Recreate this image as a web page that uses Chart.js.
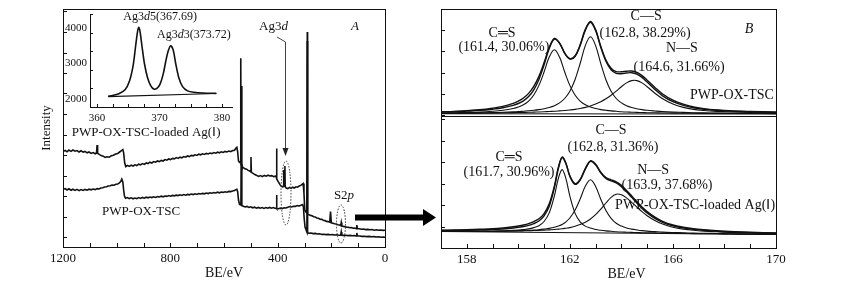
<!DOCTYPE html>
<html>
<head>
<meta charset="utf-8">
<script src="https://cdn.jsdelivr.net/npm/chart.js@4.4.1/dist/chart.umd.min.js"></script>
<style>
html, body { margin: 0; padding: 0; background: #fff; }
#wrap { position: relative; width: 863px; height: 291px; }
#wrap canvas { position: absolute; left: 0; top: 0; }
</style>
</head>
<body>
<div id="wrap">
  <canvas id="survey" width="863" height="291"></canvas>
  <canvas id="inset" width="863" height="291"></canvas>
  <canvas id="sTop" width="863" height="291"></canvas>
  <canvas id="sBot" width="863" height="291"></canvas>
</div>
<script>
// ---- survey spectra (BE in eV, intensity in arbitrary units) ----
const surveyLoaded = [[1200,85.4],[1192,86.6],[1185,85.2],[1178,86.9],[1170,85.6],[1163,87.0],[1155,85.8],[1148,86.4],[1140,85.0],[1133,86.2],[1125,84.8],[1118,85.6],[1110,84.2],[1103,85.0],[1095,83.6],[1088,84.4],[1080,83.2],[1075,84.0],[1073,92.0],[1071,83.6],[1065,82.6],[1058,81.4],[1050,80.8],[1043,79.6],[1036,80.2],[1028,79.8],[1020,81.2],[1012,81.8],[1004,83.0],[996,83.6],[989,85.0],[982,86.4],[977,87.4],[974,84.2],[970,74.0],[966,70.4],[960,71.6],[953,70.6],[946,71.8],[939,71.0],[932,72.2],[925,71.4],[918,72.8],[911,72.2],[904,73.4],[897,72.6],[890,74.0],[883,73.4],[876,74.8],[869,74.0],[862,75.4],[855,74.8],[848,76.0],[841,75.4],[834,76.6],[827,76.0],[820,77.4],[813,76.8],[806,78.0],[799,77.4],[792,78.6],[785,78.2],[778,79.4],[771,78.6],[764,79.8],[757,79.2],[750,80.4],[743,79.8],[736,81.0],[729,80.4],[722,81.6],[715,81.2],[708,82.2],[701,81.6],[694,82.8],[687,82.2],[680,83.2],[673,82.6],[666,83.6],[659,83.0],[652,84.0],[645,83.4],[638,84.4],[631,83.8],[624,84.8],[617,84.2],[610,85.2],[603,84.6],[596,85.6],[589,85.0],[582,86.0],[575,85.4],[568,86.4],[561,86.8],[556,88.6],[552,89.6],[549,85.0],[546,76.0],[542,74.6],[539,75.2],[537.5,178.7],[536.5,73.0],[533,70.6],[528,69.4],[522,68.2],[516,67.8],[510,66.6],[504,66.0],[501,65.4],[499.5,80.0],[498,64.6],[492,63.6],[485,62.4],[478,61.6],[471,60.6],[464,61.4],[457,60.4],[450,61.6],[443,60.8],[436,61.8],[429,61.0],[422,61.4],[415,60.4],[408,60.8],[405,60.2],[404,88.5],[403,58.0],[398,55.4],[392,52.6],[386,50.6],[381,50.0],[379,51.0],[378,67.0],[377,51.6],[374,50.8],[373,71.0],[372,50.4],[368,49.0],[362,48.4],[356,49.6],[350,48.6],[344,49.8],[338,49.0],[332,50.2],[326,49.8],[320,51.0],[314,51.6],[309,52.6],[305,53.4],[302,44.0],[299,27.0],[295,25.0],[291,24.0],[289.6,205.0],[288.5,23.0],[284,22.4],[278,21.6],[272,21.2],[266,20.2],[260,20.0],[254,19.0],[248,18.8],[242,17.8],[236,17.6],[230,16.8],[224,16.4],[218,15.6],[212,15.4],[206,14.8],[203,25.5],[200,14.2],[194,13.8],[188,13.2],[182,13.0],[176,12.2],[170,12.0],[165,11.4],[163,14.5],[161,11.0],[155,10.6],[149,10.4],[143,9.8],[137,9.8],[131,9.2],[125,9.4],[119,8.8],[113,9.0],[107,8.4],[105,12.0],[103,8.4],[96,8.2],[88,7.8],[80,8.0],[72,7.4],[64,7.6],[56,7.2],[48,7.4],[40,6.8],[32,7.2],[24,6.8],[16,7.0],[8,6.6],[0,6.8]];
const surveyPlain = [[1200,47.6],[1192,48.4],[1185,47.0],[1178,48.2],[1170,46.8],[1163,47.8],[1155,46.6],[1148,47.6],[1140,46.4],[1133,47.4],[1125,46.6],[1118,47.6],[1110,46.8],[1103,47.8],[1095,47.2],[1088,48.0],[1080,47.4],[1073,48.4],[1066,48.0],[1059,49.0],[1052,49.2],[1045,50.0],[1038,50.2],[1031,51.0],[1024,51.2],[1017,52.0],[1010,51.8],[1003,52.8],[996,53.0],[990,54.2],[985,55.4],[981,57.8],[977,55.0],[974,47.0],[971,41.0],[967,38.8],[960,39.4],[953,38.4],[946,39.2],[939,38.2],[932,39.0],[925,38.4],[918,39.4],[911,38.6],[904,39.6],[897,38.8],[890,39.8],[883,39.2],[876,40.0],[869,39.4],[862,40.2],[855,39.6],[848,40.4],[841,40.0],[834,40.8],[827,40.2],[820,41.0],[813,40.6],[806,41.4],[799,40.8],[792,41.6],[785,41.2],[778,41.8],[771,41.4],[764,42.2],[757,41.6],[750,42.4],[743,41.8],[736,42.6],[729,42.2],[722,43.0],[715,42.4],[708,43.2],[701,42.6],[694,43.4],[687,43.0],[680,43.6],[673,43.2],[666,44.0],[659,43.4],[652,44.2],[645,43.8],[638,44.4],[631,44.0],[624,44.8],[617,44.2],[610,45.0],[603,44.6],[596,45.2],[589,44.8],[582,45.6],[575,45.4],[568,46.0],[561,46.4],[556,47.4],[552,47.8],[549,45.0],[546,37.0],[542,32.6],[537,32.0],[534.5,151.0],[533.5,31.4],[528,30.8],[521,30.0],[514,30.6],[507,29.6],[500,30.2],[493,29.2],[486,29.8],[479,28.8],[472,29.6],[465,28.8],[458,29.4],[451,28.6],[444,29.4],[437,28.8],[430,29.6],[423,28.8],[416,29.4],[409,28.6],[405,29.0],[404,42.0],[403,28.4],[397,28.2],[390,28.8],[383,28.4],[376,29.2],[369,29.0],[362,29.8],[355,30.4],[348,30.0],[341,30.8],[334,30.6],[327,31.4],[320,31.0],[313,31.8],[307,32.4],[304,30.0],[301,18.0],[298,10.0],[294,7.0],[291,5.0],[289.6,196.0],[288.5,4.2],[283,3.8],[276,4.0],[268,3.4],[260,3.6],[252,3.0],[244,3.2],[236,2.6],[228,2.8],[220,2.4],[212,2.6],[204,2.2],[196,2.4],[188,2.0],[180,2.2],[172,1.8],[165,2.0],[163,5.0],[161,1.8],[154,1.6],[146,1.8],[138,1.4],[130,1.6],[122,1.2],[114,1.4],[107,1.0],[105,4.0],[103,1.0],[95,1.0],[86,0.6],[77,0.8],[68,0.4],[59,0.6],[50,0.2],[41,0.4],[32,0.0],[23,0.2],[14,-0.2],[6,0.0],[0,-0.2]];

// ---- Ag3d inset (BE, counts) ----
const ag3d = [[361.8,2080],[362.5,2100],[363.5,2150],[364.5,2260],[365.2,2500],[365.8,2950],[366.2,3500],[366.5,3900],[366.7,4020],[366.9,3900],[367.2,3500],[367.6,3000],[368.1,2600],[368.6,2380],[369.1,2280],[369.6,2300],[370.1,2420],[370.6,2700],[371.0,3050],[371.4,3350],[371.8,3500],[372.2,3380],[372.6,3000],[373.1,2600],[373.7,2350],[374.5,2230],[375.5,2190],[377,2170],[379.1,2160]];
const ag3dBase = [[361.8,2065],[379.1,2155]];
const insetCounts = [2000, 3000, 4000];

// ---- S2p, PWP-OX-TSC ----
const beTop = [157,157.5,158,158.5,159,159.4,159.8,160,160.2,160.4,160.6,160.8,161,161.2,161.4,161.6,161.8,162,162.2,162.4,162.6,162.8,163,163.2,163.4,163.6,163.8,164,164.2,164.4,164.6,164.8,165,165.3,165.6,166,166.4,166.8,167.2,167.7,168.2,169,170];
const topRaw = [3.2,3.6,4.3,5.2,6.8,8.6,11.6,13.8,17.0,21.6,28.6,38.6,52.4,67.6,76.6,72.2,62.0,56.4,59.0,70.2,85.6,93.6,85.4,68.8,55.0,46.8,43.4,43.2,43.8,44.0,42.6,39.4,34.8,27.6,21.0,14.8,10.8,8.0,6.4,5.1,4.2,3.5,2.9];
const topFit = [3.0,3.3,3.9,4.6,5.8,7.2,9.6,11.5,14.2,18.4,25.2,35.6,50.1,66.5,75.8,71.7,61.6,56.0,58.5,69.5,84.8,92.8,84.4,67.7,53.8,45.3,41.7,41.3,42.0,42.3,40.9,37.6,32.9,25.6,19.2,13.3,9.6,7.2,5.8,4.7,3.9,3.3,2.7];
const topCdS = [2.0,2.2,2.5,2.9,3.7,4.7,6.5,8.0,10.2,13.9,20.0,29.6,43.0,57.9,65.2,57.9,43.0,29.6,20.0,13.9,10.2,8.0,6.5,5.4,4.7,4.1,3.7,3.3,3.0,2.8,2.6,2.5,2.3,2.2,2.0,1.9,1.8,1.7,1.6,1.6,1.5,1.5,1.4];
const topCS = [1.7,1.8,2.0,2.2,2.4,2.7,3.1,3.4,3.8,4.2,4.7,5.4,6.3,7.5,9.3,12.1,16.5,23.8,35.3,51.5,69.4,78.2,69.4,51.5,35.3,23.8,16.5,12.1,9.3,7.5,6.3,5.4,4.7,4.0,3.4,2.9,2.6,2.3,2.1,1.9,1.8,1.7,1.6];
const topNS = [1.7,1.7,1.8,1.9,2.1,2.2,2.4,2.5,2.6,2.7,2.9,3.0,3.2,3.5,3.7,4.1,4.5,5.0,5.6,6.5,7.6,9.0,10.9,13.2,16.2,19.8,23.9,28.3,32.1,34.4,34.4,32.1,28.3,21.8,16.2,10.9,7.6,5.6,4.5,3.6,3.0,2.5,2.1];
const topBase = [[157,1.2],[170,1.0]];

// ---- S2p, PWP-OX-TSC-loaded Ag(I) ----
const beBot = [157,157.5,158,158.5,159,159.4,159.8,160,160.2,160.4,160.6,160.8,161,161.2,161.4,161.55,161.7,161.85,162,162.2,162.4,162.6,162.8,163,163.2,163.4,163.6,163.8,164,164.2,164.4,164.6,164.8,165,165.3,165.6,166,166.4,166.8,167.2,167.7,168.2,169,170];
const botRaw = [17.8,18.0,18.3,18.7,19.2,20.0,21.2,22.0,23.0,24.4,26.4,29.2,34.4,44.2,62.0,80.2,91.0,84.6,72.2,64.4,68.6,79.4,87.2,83.8,75.8,70.4,68.2,66.2,62.6,57.6,52.0,46.4,41.0,36.4,30.8,26.6,23.0,20.8,19.2,18.2,17.3,16.6,15.8,15.0];
const botFit = [17.5,17.6,17.8,18.1,18.4,19.0,20.0,20.6,21.5,22.6,24.4,27.0,32.1,41.8,60.3,79.1,90.4,84.3,71.7,63.7,68.0,78.9,86.7,83.2,75.1,69.5,67.1,65.0,61.3,56.3,50.6,44.9,39.6,35.1,29.6,25.7,22.2,20.1,18.6,17.7,16.8,16.2,15.4,14.7];
const botCdS = [16.8,16.8,16.8,16.8,16.8,17.0,17.6,17.9,18.4,19.1,20.4,22.3,26.5,35.1,52.1,69.2,78.4,69.1,51.9,34.9,26.2,21.9,19.9,18.5,17.7,17.1,16.7,16.3,16.0,15.8,15.6,15.5,15.3,15.3,15.1,14.9,14.7,14.6,14.4,14.3,14.2,14.0,13.8,13.6];
const botCS = [16.8,16.8,16.8,16.8,16.8,16.9,17.1,17.2,17.4,17.6,17.9,18.3,18.9,19.6,20.7,22.0,23.6,26.2,30.0,37.7,49.0,61.7,68.2,61.6,48.8,37.4,29.7,24.7,21.9,20.0,18.9,18.1,17.4,16.9,16.4,15.9,15.5,15.2,14.9,14.7,14.5,14.3,14.0,13.7];
const botNS = [16.9,16.9,16.9,16.9,16.8,16.9,17.1,17.1,17.2,17.3,17.5,17.6,17.9,18.1,18.5,18.9,19.2,19.8,20.4,21.7,23.4,25.7,29.0,33.3,38.8,45.0,50.7,53.8,53.2,50.1,45.7,40.9,36.3,32.3,27.4,23.9,20.8,18.9,17.7,16.9,16.2,15.6,14.9,14.4];
const botBase = [[157,16.5],[170,13.5]];

const FONT = "'Liberation Serif', 'Times New Roman', serif";
const INK = '#111';
Chart.defaults.font.family = FONT;
Chart.defaults.color = INK;

const pairs = arr => arr.map(p => ({x: p[0], y: p[1]}));
const zipXY = (xs, ys) => xs.map((x, i) => ({x: x, y: ys[i]}));
const line = (data, w, t) => ({data: data, borderColor: INK, borderWidth: w, pointRadius: 0, tension: t || 0, fill: false});

// text with _italic_ parts
function rich(ctx, txt, x, y, size, align) {
  const parts = txt.split('_');
  const fonts = parts.map((p, i) => (i % 2 ? 'italic ' : '') + size + 'px ' + FONT);
  let w = 0;
  parts.forEach((p, i) => { ctx.font = fonts[i]; w += ctx.measureText(p).width; });
  let cx = align === 'left' ? x : align === 'right' ? x - w : x - w / 2;
  ctx.textAlign = 'left';
  ctx.textBaseline = 'middle';
  ctx.fillStyle = INK;
  parts.forEach((p, i) => { ctx.font = fonts[i]; ctx.fillText(p, cx, y); cx += ctx.measureText(p).width; });
}

// frame + inward tick marks
function frame(o) {
  return {
    id: 'frame',
    afterDatasetsDraw(chart) {
      const ctx = chart.ctx, a = chart.chartArea;
      ctx.save();
      ctx.strokeStyle = INK;
      ctx.lineWidth = 1;
      if (o.box) ctx.strokeRect(Math.round(a.left) + 0.5, Math.round(a.top) + 0.5, Math.round(a.right - a.left), Math.round(a.bottom - a.top));
      ctx.beginPath();
      if (o.x) chart.scales.x.ticks.forEach(t => {
        const p = Math.round(chart.scales.x.getPixelForValue(t.value)) + 0.5;
        ctx.moveTo(p, a.bottom); ctx.lineTo(p, a.bottom - o.x);
      });
      if (o.y) chart.scales.y.ticks.forEach(t => {
        const p = Math.round(chart.scales.y.getPixelForValue(t.value)) + 0.5;
        ctx.moveTo(a.left, p); ctx.lineTo(a.left + o.y, p);
      });
      ctx.stroke();
      ctx.restore();
    }
  };
}

function notes(list, extra) {
  return {
    id: 'notes',
    afterDraw(chart) {
      const ctx = chart.ctx, sx = chart.scales.x, sy = chart.scales.y;
      ctx.save();
      list.forEach(n => rich(ctx, n.t, sx.getPixelForValue(n.x), sy.getPixelForValue(n.y), n.s, n.a));
      if (extra) extra(ctx, sx, sy);
      ctx.restore();
    }
  };
}

const base = {
  responsive: false,
  animation: false,
  events: [],
  plugins: {legend: {display: false}, tooltip: {enabled: false}}
};
const noGrid = {display: false, drawTicks: false};

// ---- panel A: survey ----
new Chart(document.getElementById('survey'), {
  type: 'line',
  data: {datasets: [line(pairs(surveyLoaded), 1.6), line(pairs(surveyPlain), 1.6)]},
  options: Object.assign({}, base, {
    layout: {padding: {left: 0, top: 9, right: 478, bottom: 0}},
    scales: {
      x: {
        type: 'linear', reverse: true, min: 0, max: 1200,
        grid: noGrid, border: {display: false},
        ticks: {stepSize: 100, autoSkip: false, maxRotation: 0, includeBounds: false, padding: 4,
          font: {size: 13}, callback: v => (v % 400 === 0 ? v : '')},
        title: {display: true, text: 'BE/eV', font: {size: 14}, padding: {top: 0, bottom: 9}},
        afterFit: s => { s.height = 44; }
      },
      y: {
        type: 'linear', min: -10, max: 228,
        grid: noGrid, border: {display: false},
        ticks: {display: false, stepSize: 20.5, includeBounds: false},
        title: {display: true, text: 'Intensity', font: {size: 13}, padding: {top: 39, bottom: 0}},
        afterFit: s => { s.width = 63; }
      }
    }
  }),
  plugins: [frame({box: true, x: 4, y: 4}), notes([
    {x: 1167.6, y: 104, t: 'PWP-OX-TSC-loaded Ag(Ⅰ)', s: 13, a: 'left'},
    {x: 909, y: 25, t: 'PWP-OX-TSC', s: 13},
    {x: 415.5, y: 210, t: 'Ag3_d_', s: 13},
    {x: 111.8, y: 210, t: '_A_', s: 13},
    {x: 152.8, y: 41, t: 'S2_p_', s: 13}
  ], (ctx, sx, sy) => {
    // arrow to Ag3d
    ctx.strokeStyle = '#444';
    ctx.lineWidth = 1;
    const ax = sx.getPixelForValue(370.8);
    ctx.beginPath();
    ctx.moveTo(sx.getPixelForValue(402.5), sy.getPixelForValue(200));
    ctx.lineTo(ax, sy.getPixelForValue(195));
    ctx.lineTo(ax, sy.getPixelForValue(86));
    ctx.stroke();
    const tip = sy.getPixelForValue(81);
    ctx.fillStyle = '#222';
    ctx.beginPath();
    ctx.moveTo(ax - 3, tip - 8); ctx.lineTo(ax + 3, tip - 8); ctx.lineTo(ax, tip); ctx.closePath();
    ctx.fill();
    // dotted marks
    ctx.setLineDash([1.5, 1.5]);
    ctx.strokeStyle = '#333';
    ctx.beginPath();
    ctx.ellipse(sx.getPixelForValue(369), sy.getPixelForValue(44), 5, 32, 0, 0, Math.PI * 2);
    ctx.stroke();
    ctx.beginPath();
    ctx.ellipse(sx.getPixelForValue(164), sy.getPixelForValue(13), 4.5, 19, 0, 0, Math.PI * 2);
    ctx.stroke();
    ctx.setLineDash([]);
    // big arrow to panel B
    ctx.fillStyle = '#000';
    ctx.fillRect(355, 214.5, 69, 6);
    ctx.beginPath();
    ctx.moveTo(423, 209); ctx.lineTo(436, 217.5); ctx.lineTo(423, 226); ctx.closePath();
    ctx.fill();
  })]
});

// ---- inset: Ag3d ----
new Chart(document.getElementById('inset'), {
  type: 'line',
  data: {datasets: [line(pairs(ag3d), 1.6, 0.3), line(pairs(ag3dBase), 1.2)]},
  options: Object.assign({}, base, {
    layout: {padding: {left: 40, top: 14, right: 631, bottom: 166}},
    scales: {
      x: {
        type: 'linear', min: 358.9, max: 381.6,
        grid: noGrid, border: {display: true, color: INK, width: 1},
        ticks: {stepSize: 2.5, autoSkip: false, maxRotation: 0, includeBounds: false, padding: 5,
          font: {size: 11}, callback: v => (v % 10 === 0 ? v : '')},
        afterFit: s => { s.height = 18; }
      },
      y: {
        type: 'linear', position: 'left', min: 1775, max: 4394,
        grid: noGrid, border: {display: true, color: INK, width: 1},
        ticks: {display: false, stepSize: 500, autoSkip: false, includeBounds: false},
        afterFit: s => { s.width = 50; }
      }
    }
  }),
  plugins: [frame({box: false, x: 3, y: 3}), notes([
    {x: 370.1, y: 4310, t: 'Ag3_d_5(367.69)', s: 12},
    {x: 375.5, y: 3800, t: 'Ag3_d_3(373.72)', s: 12}
  ], (ctx, sx, sy) => {
    // count labels of the inset's left axis
    insetCounts.forEach(c => rich(ctx, String(c), sx.left - 3, sy.getPixelForValue(c), 11, 'right'));
  })]
});

// ---- panel B, upper: PWP-OX-TSC ----
new Chart(document.getElementById('sTop'), {
  type: 'line',
  data: {datasets: [
    line(zipXY(beTop, topRaw), 1.4, 0.35),
    line(zipXY(beTop, topFit), 1.4, 0.35),
    line(zipXY(beTop, topCdS), 1.1, 0.35),
    line(zipXY(beTop, topCS), 1.1, 0.35),
    line(zipXY(beTop, topNS), 1.1, 0.35),
    line(pairs(topBase), 1.1)
  ]},
  options: Object.assign({}, base, {
    layout: {padding: {left: 400, top: 9, right: 87, bottom: 175}},
    scales: {
      x: {type: 'linear', min: 157, max: 170, display: false},
      y: {
        type: 'linear', min: -1, max: 106,
        grid: noGrid, border: {display: false},
        ticks: {display: false, stepSize: 21.2, includeBounds: false},
        afterFit: s => { s.width = 41; }
      }
    }
  }),
  plugins: [frame({box: true, y: 4}), notes([
    {x: 159.37, y: 82, t: 'C═S', s: 14},
    {x: 159.44, y: 68, t: '(161.4, 30.06%)', s: 14},
    {x: 164.96, y: 99, t: 'C—S', s: 14},
    {x: 164.92, y: 82, t: '(162.8, 38.29%)', s: 14},
    {x: 166.35, y: 67, t: 'N—S', s: 14},
    {x: 166.24, y: 48, t: '(164.6, 31.66%)', s: 14},
    {x: 168.29, y: 20, t: 'PWP-OX-TSC', s: 14},
    {x: 168.95, y: 86, t: '_B_', s: 14}
  ])]
});

// ---- panel B, lower: PWP-OX-TSC-loaded Ag(I) ----
new Chart(document.getElementById('sBot'), {
  type: 'line',
  data: {datasets: [
    line(zipXY(beBot, botRaw), 1.4, 0.35),
    line(zipXY(beBot, botFit), 1.4, 0.35),
    line(zipXY(beBot, botCdS), 1.1, 0.35),
    line(zipXY(beBot, botCS), 1.1, 0.35),
    line(zipXY(beBot, botNS), 1.1, 0.35),
    line(pairs(botBase), 1.1)
  ]},
  options: Object.assign({}, base, {
    layout: {padding: {left: 400, top: 116, right: 87, bottom: 0}},
    scales: {
      x: {
        type: 'linear', min: 157, max: 170,
        grid: noGrid, border: {display: false},
        ticks: {stepSize: 1, autoSkip: false, maxRotation: 0, includeBounds: false, padding: 4,
          font: {size: 13}, callback: v => ((v - 158) % 4 === 0 ? v : '')},
        afterFit: s => { s.height = 43; }
      },
      y: {
        type: 'linear', min: 0, max: 132,
        grid: noGrid, border: {display: false},
        ticks: {display: false, stepSize: 21.5, includeBounds: false},
        afterFit: s => { s.width = 41; }
      }
    }
  }),
  plugins: [frame({box: true, x: 4, y: 4}), notes([
    {x: 163.6, y: 118, t: 'C—S', s: 14},
    {x: 163.67, y: 101, t: '(162.8, 31.36%)', s: 14},
    {x: 159.64, y: 91, t: 'C═S', s: 14},
    {x: 159.64, y: 76, t: '(161.7, 30.96%)', s: 14},
    {x: 165.23, y: 78, t: 'N—S', s: 14},
    {x: 165.77, y: 63, t: '(163.9, 37.68%)', s: 14},
    {x: 166.86, y: 43, t: 'PWP-OX-TSC-loaded Ag(Ⅰ)', s: 14},
    {x: 164.2, y: -26, t: 'BE/eV', s: 14}
  ])]
});
</script>
</body>
</html>
